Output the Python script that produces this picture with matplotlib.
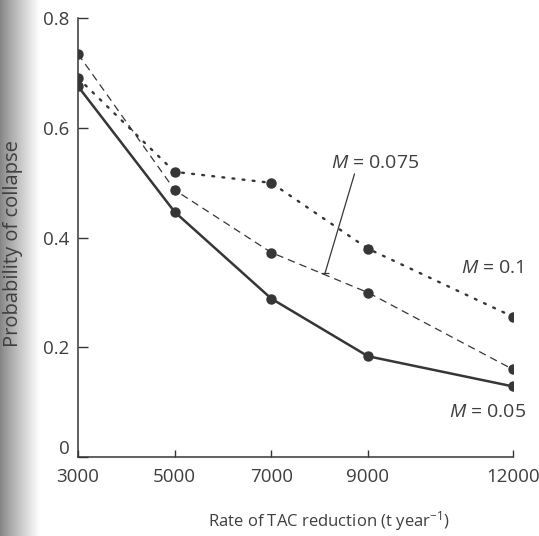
import numpy as np
import matplotlib.pyplot as plt
from matplotlib.transforms import ScaledTranslation

plt.rcParams['font.family'] = ['Open Sans', 'DejaVu Sans']
plt.rcParams['mathtext.fontset'] = 'custom'
plt.rcParams['mathtext.rm'] = 'Open Sans'
plt.rcParams['mathtext.it'] = 'Open Sans:italic'

tac_rate = [3000, 5000, 7000, 9000, 12000]
p_m005 = [0.676, 0.447, 0.289, 0.184, 0.129]
p_m0075 = [0.735, 0.487, 0.373, 0.300, 0.160]
p_m01 = [0.691, 0.520, 0.500, 0.380, 0.256]

ink = '#363636'
txt = '#3e3e3e'

fig = plt.figure(figsize=(5.39, 5.36), dpi=100)

# scanner shadow along the left edge
shade = fig.add_axes([0, 0, 0.08, 1])
grad = np.linspace(0.0, 1.0, 80)
grad = 0.52 + 0.48 * np.clip(grad * 1.1, 0, 1) ** 0.9
shade.imshow(np.tile(grad, (10, 1)), cmap='gray', vmin=0, vmax=1,
             aspect='auto', extent=[0, 1, 0, 1])
shade.set_axis_off()

ax = fig.add_axes([0.1447, 0.147, 0.807, 0.819])
ax.patch.set_alpha(0)

ax.plot(tac_rate, p_m005, color=ink, lw=1.8, ls='-',
        marker='o', ms=6.5, mfc=ink, mec=ink)
ax.plot(tac_rate, p_m0075, color=ink, lw=0.9, ls=(0, (6, 4)),
        marker='o', ms=6.5, mfc=ink, mec=ink)
ax.plot(tac_rate, p_m01, color=ink, lw=1.7, ls=(0, (0.8, 3.5)),
        dash_capstyle='round', marker='o', ms=6.5, mfc=ink, mec=ink)

ax.set_xlim(3000, 12000)
ax.set_ylim(0, 0.8)
ax.set_xticks(tac_rate)
ax.set_yticks([0, 0.2, 0.4, 0.6, 0.8])
ax.set_yticklabels(['0', '0.2', '0.4', '0.6', '0.8'])

for s in ['top', 'right']:
    ax.spines[s].set_visible(False)
for s in ['left', 'bottom']:
    ax.spines[s].set_color(ink)
    ax.spines[s].set_linewidth(1.1)

ax.tick_params(axis='both', direction='in', colors=ink, labelcolor=txt,
               labelsize=13.5, width=1.0)
ax.tick_params(axis='x', length=5, pad=8)
ax.tick_params(axis='y', length=7, pad=6)

# lift the zero label clear of the 3000 label
zero = ax.get_yticklabels()[0]
zero.set_transform(zero.get_transform() +
                   ScaledTranslation(0, 7 / 72, fig.dpi_scale_trans))

ax.set_xlabel('Rate of TAC reduction (t year$^{-1}$)', fontsize=12,
              color=txt)
ax.xaxis.set_label_coords(0.577, -0.118)
ax.set_ylabel('Probability of collapse', fontsize=14.5, color=txt)
ax.yaxis.set_label_coords(-0.127, 0.487)

# curve labels
ax.text(8240, 0.536, '$\\it{M}$ = 0.075', fontsize=14, color=txt,
        ha='left', va='center')
ax.plot([8720, 8110], [0.516, 0.335], color=ink, lw=0.9)
ax.plot([8110], [0.335], color=ink, marker='_', ms=6, mew=0.9)
ax.text(12216, 0.344, '$\\it{M}$ = 0.1', fontsize=14, color=txt,
        ha='right', va='center')
ax.text(12280, 0.082, '$\\it{M}$ = 0.05', fontsize=14, color=txt,
        ha='right', va='center')

fig.savefig('out.png', dpi=100)
